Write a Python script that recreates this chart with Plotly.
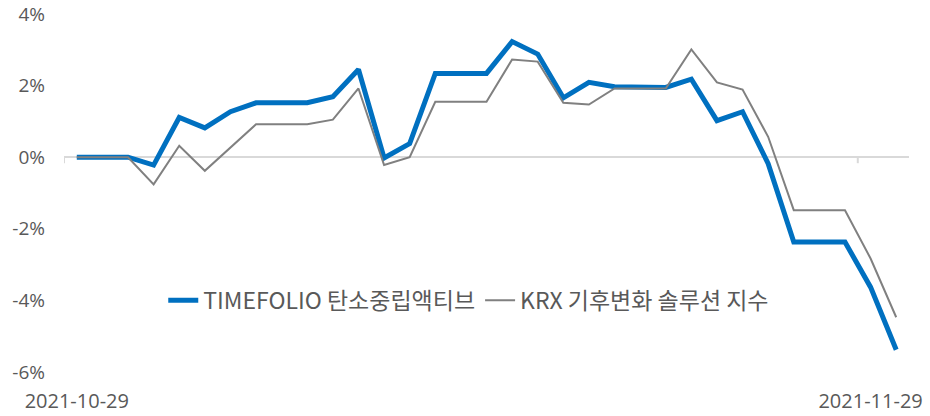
import datetime as dt
import plotly.graph_objects as go

start = dt.date(2021, 10, 29)
dates = [(start + dt.timedelta(days=i)).isoformat() for i in range(33)]

timefolio = [0.00, 0.00, 0.00, -0.22, 1.11, 0.82, 1.27, 1.52, 1.52, 1.52,
             1.69, 2.45, -0.02, 0.38, 2.34, 2.34, 2.34, 3.23, 2.88, 1.66,
             2.09, 1.97, 1.97, 1.95, 2.18, 1.02, 1.27, -0.18, -2.37, -2.37,
             -2.37, -3.63, -5.38]
krx = [0.00, 0.00, 0.00, -0.76, 0.32, -0.38, 0.27, 0.92, 0.92, 0.92,
       1.05, 1.92, -0.22, 0.00, 1.55, 1.55, 1.55, 2.73, 2.67, 1.52,
       1.47, 1.92, 1.92, 1.92, 3.01, 2.09, 1.89, 0.57, -1.48, -1.48,
       -1.48, -2.83, -4.47]

name_tf = "TIMEFOLIO 탄소중립액티브"
name_krx = "KRX 기후변화 솔루션 지수"
y_ticks = [-6, -4, -2, 0, 2, 4]
x_tick_idx = [0, 31]

font_main = "'Open Sans', 'Noto Sans CJK KR', sans-serif"
font_kr = "'Noto Sans CJK KR', 'Open Sans', sans-serif"

fig = go.Figure()
fig.add_trace(go.Scatter(x=dates, y=timefolio, mode="lines", name=name_tf,
                         line=dict(color="#0070C0", width=5)))
fig.add_trace(go.Scatter(x=dates, y=krx, mode="lines", name=name_krx,
                         line=dict(color="#808080", width=2)))

for i in x_tick_idx:
    fig.add_shape(type="line", xref="x", yref="y", x0=i - 0.5, x1=i - 0.5,
                  ysizemode="pixel", yanchor=0, y0=0, y1=-6,
                  line=dict(color="#d9d9d9", width=2))

fig.update_layout(
    width=930, height=416,
    margin=dict(l=64, r=21, t=14, b=44),
    plot_bgcolor="white", paper_bgcolor="white",
    showlegend=True,
    legend=dict(orientation="h", x=0.479, xanchor="center", y=0.2, yanchor="middle",
                font=dict(family=font_kr, size=23, color="#595959"),
                bgcolor="rgba(0,0,0,0)", itemwidth=30, tracegroupgap=0),
)
fig.update_xaxes(type="category", range=[-0.5, 32.5], showgrid=False,
                 showline=False, zeroline=False, ticks="", automargin=False,
                 tickmode="array", tickvals=[dates[i] for i in x_tick_idx],
                 ticktext=[dates[i] for i in x_tick_idx],
                 tickangle=0, ticklabelstandoff=15,
                 tickfont=dict(family=font_main, size=20, color="#595959"))
fig.update_yaxes(range=[-6, 4], tickvals=y_ticks, automargin=False,
                 ticktext=[f"{v}%" for v in y_ticks],
                 showgrid=False, showline=False,
                 zeroline=True, zerolinecolor="#d9d9d9", zerolinewidth=2,
                 ticks="", ticklabelstandoff=18,
                 tickfont=dict(family=font_main, size=19, color="#595959"))

fig.write_html("out.html", config={"displayModeBar": False})

with open("out.html", encoding="utf-8") as f:
    html = f.read()
html = html.replace("<head>", "<head><style>html,body{margin:0;padding:0;overflow:hidden;}</style>", 1)
with open("out.html", "w", encoding="utf-8") as f:
    f.write(html)
